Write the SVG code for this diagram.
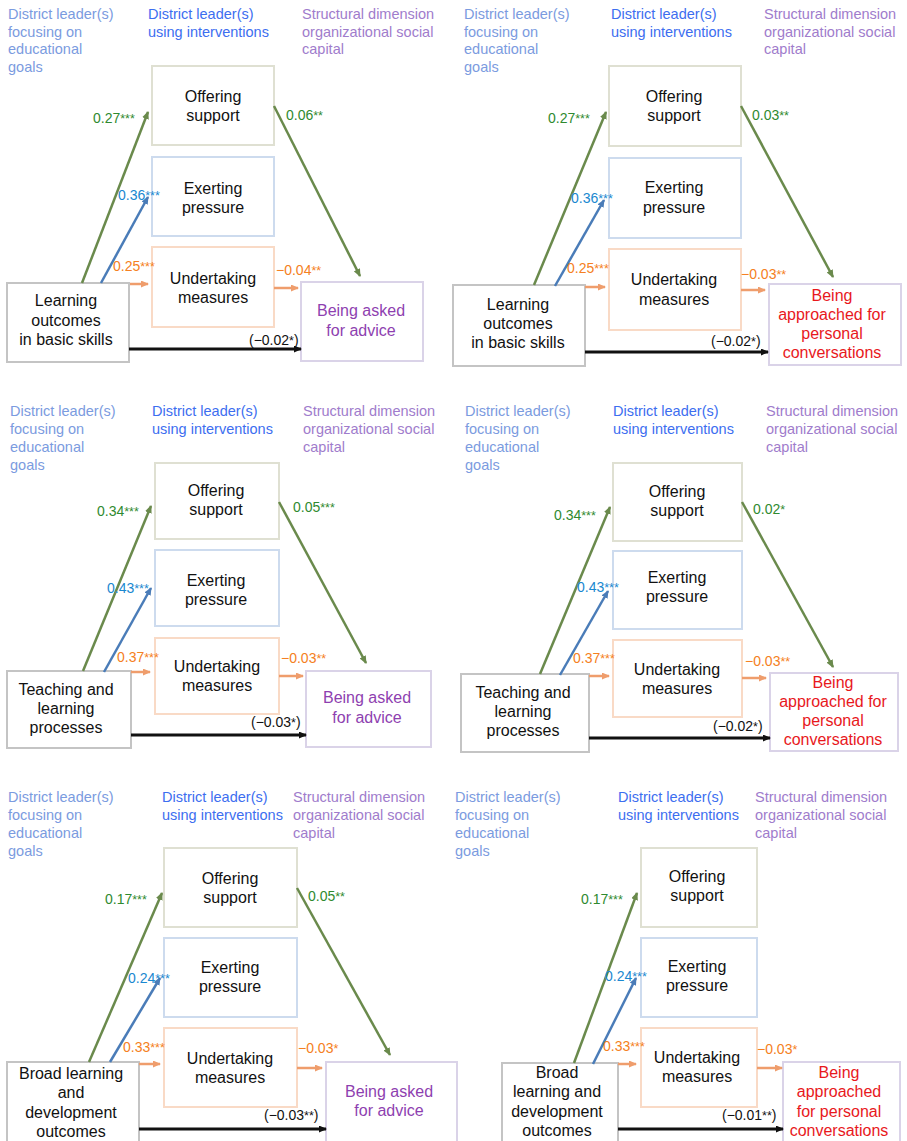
<svg xmlns="http://www.w3.org/2000/svg" width="907" height="1141" viewBox="0 0 907 1141">
<style>
text{font-family:"Liberation Sans",Arial,sans-serif}
.h{font-size:14.5px}
.h1{fill:#7b9be0}
.h2{fill:#3d6ef0}
.h3{fill:#a07ccc}
.bt{font-size:16px;fill:#111;text-anchor:middle}
.ba{font-size:16px;fill:#8e3fb0;text-anchor:middle}
.bp{font-size:16px;fill:#e8181c;text-anchor:middle}
.lb{font-size:14px}
.lg{fill:#2f8a2f}
.lbl{fill:#1a88d0}
.lo{fill:#f58022}
.lk{fill:#111}
.st{font-size:12.5px}
.box{fill:#fff;stroke-width:2}
.bo{stroke:#dfe0d2}
.be{stroke:#cddbee}
.bu{stroke:#f9dac6}
.bs{stroke:#c4c4c4}
.bq{stroke:#dad3e8}
.ag{stroke:#6a8a4c;stroke-width:2.5;fill:none;marker-end:url(#mg)}
.ab{stroke:#4a7cb8;stroke-width:2.5;fill:none;marker-end:url(#mb)}
.ao{stroke:#ef9d6c;stroke-width:2.5;fill:none;marker-end:url(#mo)}
.ak{stroke:#111;stroke-width:3;fill:none;marker-end:url(#mk)}
</style>
<defs>
<marker id="mg" markerUnits="userSpaceOnUse" markerWidth="8" markerHeight="7" refX="7" refY="3.5" orient="auto"><path d="M0,0 L8,3.5 L0,7 z" fill="#6a8a4c"/></marker>
<marker id="mb" markerUnits="userSpaceOnUse" markerWidth="8" markerHeight="7" refX="7" refY="3.5" orient="auto"><path d="M0,0 L8,3.5 L0,7 z" fill="#4a7cb8"/></marker>
<marker id="mo" markerUnits="userSpaceOnUse" markerWidth="8" markerHeight="7" refX="7" refY="3.5" orient="auto"><path d="M0,0 L8,3.5 L0,7 z" fill="#ef9d6c"/></marker>
<marker id="mk" markerUnits="userSpaceOnUse" markerWidth="8" markerHeight="7" refX="7" refY="3.5" orient="auto"><path d="M0,0 L8,3.5 L0,7 z" fill="#111"/></marker>
</defs>
<rect width="907" height="1141" fill="#fff"/>

<!-- ========== Panel 1 ========== -->
<g id="p1-headers" class="h">
<text class="h1" x="8" y="19">District leader(s)<tspan x="8" y="37">focusing on</tspan><tspan x="8" y="54">educational</tspan><tspan x="8" y="72">goals</tspan></text>
<text class="h2" x="148" y="19">District leader(s)<tspan x="148" y="37">using interventions</tspan></text>
<text class="h3" x="302" y="19">Structural dimension<tspan x="302" y="37">organizational social</tspan><tspan x="302" y="54">capital</tspan></text>
</g>
<g id="p1-offering"><rect class="box bo" x="152" y="66" width="122" height="79"/><text class="bt" x="213" y="102">Offering<tspan x="213" y="121">support</tspan></text></g>
<g id="p1-exerting"><rect class="box be" x="152" y="157" width="122" height="79"/><text class="bt" x="213" y="194">Exerting<tspan x="213" y="213">pressure</tspan></text></g>
<g id="p1-undertaking"><rect class="box bu" x="152" y="247" width="122" height="80"/><text class="bt" x="213" y="284">Undertaking<tspan x="213" y="303">measures</tspan></text></g>
<g id="p1-source"><rect class="box bs" x="7" y="283" width="122" height="79"/><text class="bt" x="66" y="306">Learning<tspan x="66" y="326">outcomes</tspan><tspan x="66" y="345">in basic skills</tspan></text></g>
<g id="p1-outcome"><rect class="box bq" x="301" y="282" width="122" height="79"/><text class="ba" x="361" y="316">Being asked<tspan x="361" y="336">for advice</tspan></text></g>
<g id="p1-connectors">
<path class="ag" d="M82 283 L148 112"/>
<path class="ab" d="M101 283 L148 197"/>
<path class="ao" d="M130 284 L148 284"/>
<path class="ag" d="M274 106 L360 276"/>
<path class="ao" d="M274 288 L298 288"/>
<path class="ak" d="M129 349 L301 349"/>
<text class="lb lg" x="93" y="123">0.27<tspan class="st">***</tspan></text>
<text class="lb lg" x="286" y="120">0.06<tspan class="st">**</tspan></text>
<text class="lb lbl" x="118" y="200">0.36<tspan class="st">***</tspan></text>
<text class="lb lo" x="113" y="271">0.25<tspan class="st">***</tspan></text>
<text class="lb lo" x="276" y="275">−0.04<tspan class="st">**</tspan></text>
<text class="lb lk" x="249" y="345">(−0.02<tspan class="st">*</tspan>)</text>
</g>

<!-- ========== Panel 2 ========== -->
<g id="p2-headers" class="h">
<text class="h1" x="464" y="19">District leader(s)<tspan x="464" y="37">focusing on</tspan><tspan x="464" y="54">educational</tspan><tspan x="464" y="72">goals</tspan></text>
<text class="h2" x="611" y="19">District leader(s)<tspan x="611" y="37">using interventions</tspan></text>
<text class="h3" x="764" y="19">Structural dimension<tspan x="764" y="37">organizational social</tspan><tspan x="764" y="54">capital</tspan></text>
</g>
<g id="p2-offering"><rect class="box bo" x="609" y="66" width="132" height="80"/><text class="bt" x="674" y="102">Offering<tspan x="674" y="121">support</tspan></text></g>
<g id="p2-exerting"><rect class="box be" x="609" y="158" width="132" height="80"/><text class="bt" x="674" y="193">Exerting<tspan x="674" y="213">pressure</tspan></text></g>
<g id="p2-undertaking"><rect class="box bu" x="609" y="249" width="132" height="81"/><text class="bt" x="674" y="285">Undertaking<tspan x="674" y="305">measures</tspan></text></g>
<g id="p2-source"><rect class="box bs" x="453" y="285" width="132" height="81"/><text class="bt" x="518" y="310">Learning<tspan x="518" y="329">outcomes</tspan><tspan x="518" y="348">in basic skills</tspan></text></g>
<g id="p2-outcome"><rect class="box bq" x="769" y="284" width="132" height="81"/><text class="bp" x="832" y="301">Being<tspan x="832" y="320">approached for</tspan><tspan x="832" y="339">personal</tspan><tspan x="832" y="358">conversations</tspan></text></g>
<g id="p2-connectors">
<path class="ag" d="M534 285 L606 112"/>
<path class="ab" d="M555 286 L604 200"/>
<path class="ao" d="M585 287 L605 287"/>
<path class="ag" d="M741 106 L833 277"/>
<path class="ao" d="M741 290 L765 290"/>
<path class="ak" d="M585 352 L768 352"/>
<text class="lb lg" x="548" y="123">0.27<tspan class="st">***</tspan></text>
<text class="lb lg" x="752" y="120">0.03<tspan class="st">**</tspan></text>
<text class="lb lbl" x="571" y="203">0.36<tspan class="st">***</tspan></text>
<text class="lb lo" x="567" y="273">0.25<tspan class="st">***</tspan></text>
<text class="lb lo" x="741" y="279">−0.03<tspan class="st">**</tspan></text>
<text class="lb lk" x="711" y="346">(−0.02<tspan class="st">*</tspan>)</text>
</g>

<!-- ========== Panel 3 ========== -->
<g id="p3-headers" class="h">
<text class="h1" x="10" y="416">District leader(s)<tspan x="10" y="434">focusing on</tspan><tspan x="10" y="452">educational</tspan><tspan x="10" y="470">goals</tspan></text>
<text class="h2" x="152" y="416">District leader(s)<tspan x="152" y="434">using interventions</tspan></text>
<text class="h3" x="303" y="416">Structural dimension<tspan x="303" y="434">organizational social</tspan><tspan x="303" y="452">capital</tspan></text>
</g>
<g id="p3-offering"><rect class="box bo" x="155" y="463" width="124" height="76"/><text class="bt" x="216" y="496">Offering<tspan x="216" y="515">support</tspan></text></g>
<g id="p3-exerting"><rect class="box be" x="155" y="550" width="124" height="76"/><text class="bt" x="216" y="586">Exerting<tspan x="216" y="605">pressure</tspan></text></g>
<g id="p3-undertaking"><rect class="box bu" x="155" y="638" width="124" height="76"/><text class="bt" x="217" y="672">Undertaking<tspan x="217" y="691">measures</tspan></text></g>
<g id="p3-source"><rect class="box bs" x="7" y="671" width="124" height="77"/><text class="bt" x="66" y="695">Teaching and<tspan x="66" y="714">learning</tspan><tspan x="66" y="733">processes</tspan></text></g>
<g id="p3-outcome"><rect class="box bq" x="306" y="671" width="125" height="76"/><text class="ba" x="367" y="703">Being asked<tspan x="367" y="723">for advice</tspan></text></g>
<g id="p3-connectors">
<path class="ag" d="M83 671 L151 506"/>
<path class="ab" d="M104 672 L151 588"/>
<path class="ao" d="M131 672 L150 672"/>
<path class="ag" d="M279 502 L366 663"/>
<path class="ao" d="M279 676 L303 676"/>
<path class="ak" d="M131 735 L306 735"/>
<text class="lb lg" x="97" y="516">0.34<tspan class="st">***</tspan></text>
<text class="lb lg" x="293" y="512">0.05<tspan class="st">***</tspan></text>
<text class="lb lbl" x="107" y="593">0.43<tspan class="st">***</tspan></text>
<text class="lb lo" x="117" y="662">0.37<tspan class="st">***</tspan></text>
<text class="lb lo" x="281" y="663">−0.03<tspan class="st">**</tspan></text>
<text class="lb lk" x="251" y="727">(−0.03<tspan class="st">*</tspan>)</text>
</g>

<!-- ========== Panel 4 ========== -->
<g id="p4-headers" class="h">
<text class="h1" x="465" y="416">District leader(s)<tspan x="465" y="434">focusing on</tspan><tspan x="465" y="452">educational</tspan><tspan x="465" y="470">goals</tspan></text>
<text class="h2" x="613" y="416">District leader(s)<tspan x="613" y="434">using interventions</tspan></text>
<text class="h3" x="766" y="416">Structural dimension<tspan x="766" y="434">organizational social</tspan><tspan x="766" y="452">capital</tspan></text>
</g>
<g id="p4-offering"><rect class="box bo" x="613" y="463" width="129" height="78"/><text class="bt" x="677" y="497">Offering<tspan x="677" y="516">support</tspan></text></g>
<g id="p4-exerting"><rect class="box be" x="613" y="551" width="129" height="78"/><text class="bt" x="677" y="583">Exerting<tspan x="677" y="602">pressure</tspan></text></g>
<g id="p4-undertaking"><rect class="box bu" x="613" y="640" width="129" height="77"/><text class="bt" x="677" y="675">Undertaking<tspan x="677" y="694">measures</tspan></text></g>
<g id="p4-source"><rect class="box bs" x="461" y="674" width="128" height="78"/><text class="bt" x="523" y="698">Teaching and<tspan x="523" y="717">learning</tspan><tspan x="523" y="736">processes</tspan></text></g>
<g id="p4-outcome"><rect class="box bq" x="770" y="673" width="128" height="78"/><text class="bp" x="833" y="688">Being<tspan x="833" y="707">approached for</tspan><tspan x="833" y="726">personal</tspan><tspan x="833" y="745">conversations</tspan></text></g>
<g id="p4-connectors">
<path class="ag" d="M540 674 L610 507"/>
<path class="ab" d="M560 675 L608 591"/>
<path class="ao" d="M589 676 L609 676"/>
<path class="ag" d="M742 502 L833 667"/>
<path class="ao" d="M742 678 L766 678"/>
<path class="ak" d="M589 738 L770 738"/>
<text class="lb lg" x="554" y="520">0.34<tspan class="st">***</tspan></text>
<text class="lb lg" x="753" y="514">0.02<tspan class="st">*</tspan></text>
<text class="lb lbl" x="577" y="592">0.43<tspan class="st">***</tspan></text>
<text class="lb lo" x="573" y="663">0.37<tspan class="st">***</tspan></text>
<text class="lb lo" x="745" y="666">−0.03<tspan class="st">**</tspan></text>
<text class="lb lk" x="713" y="731">(−0.02<tspan class="st">*</tspan>)</text>
</g>

<!-- ========== Panel 5 ========== -->
<g id="p5-headers" class="h">
<text class="h1" x="8" y="802">District leader(s)<tspan x="8" y="820">focusing on</tspan><tspan x="8" y="838">educational</tspan><tspan x="8" y="856">goals</tspan></text>
<text class="h2" x="162" y="802">District leader(s)<tspan x="162" y="820">using interventions</tspan></text>
<text class="h3" x="293" y="802">Structural dimension<tspan x="293" y="820">organizational social</tspan><tspan x="293" y="838">capital</tspan></text>
</g>
<g id="p5-offering"><rect class="box bo" x="164" y="848" width="133" height="79"/><text class="bt" x="230" y="884">Offering<tspan x="230" y="903">support</tspan></text></g>
<g id="p5-exerting"><rect class="box be" x="164" y="938" width="133" height="79"/><text class="bt" x="230" y="973">Exerting<tspan x="230" y="992">pressure</tspan></text></g>
<g id="p5-undertaking"><rect class="box bu" x="164" y="1028" width="133" height="79"/><text class="bt" x="230" y="1064">Undertaking<tspan x="230" y="1083">measures</tspan></text></g>
<g id="p5-source"><rect class="box bs" x="7" y="1062" width="132" height="82"/><text class="bt" x="71" y="1079">Broad learning<tspan x="71" y="1098">and</tspan><tspan x="71" y="1118">development</tspan><tspan x="71" y="1137">outcomes</tspan></text></g>
<g id="p5-outcome"><rect class="box bq" x="326" y="1062" width="131" height="82"/><text class="ba" x="389" y="1097">Being asked<tspan x="389" y="1116">for advice</tspan></text></g>
<g id="p5-connectors">
<path class="ag" d="M89 1062 L162 893"/>
<path class="ab" d="M110 1062 L160 978"/>
<path class="ao" d="M139 1064 L160 1064"/>
<path class="ag" d="M297 888 L390 1055"/>
<path class="ao" d="M297 1068 L322 1068"/>
<path class="ak" d="M139 1129 L326 1129"/>
<text class="lb lg" x="105" y="904">0.17<tspan class="st">***</tspan></text>
<text class="lb lg" x="308" y="901">0.05<tspan class="st">**</tspan></text>
<text class="lb lbl" x="128" y="983">0.24<tspan class="st">***</tspan></text>
<text class="lb lo" x="123" y="1052">0.33<tspan class="st">***</tspan></text>
<text class="lb lo" x="298" y="1053">−0.03<tspan class="st">*</tspan></text>
<text class="lb lk" x="264" y="1120">(−0.03<tspan class="st">**</tspan>)</text>
</g>

<!-- ========== Panel 6 ========== -->
<g id="p6-headers" class="h">
<text class="h1" x="455" y="802">District leader(s)<tspan x="455" y="820">focusing on</tspan><tspan x="455" y="838">educational</tspan><tspan x="455" y="856">goals</tspan></text>
<text class="h2" x="618" y="802">District leader(s)<tspan x="618" y="820">using interventions</tspan></text>
<text class="h3" x="755" y="802">Structural dimension<tspan x="755" y="820">organizational social</tspan><tspan x="755" y="838">capital</tspan></text>
</g>
<g id="p6-offering"><rect class="box bo" x="641" y="848" width="116" height="79"/><text class="bt" x="697" y="882">Offering<tspan x="697" y="901">support</tspan></text></g>
<g id="p6-exerting"><rect class="box be" x="641" y="938" width="116" height="79"/><text class="bt" x="697" y="972">Exerting<tspan x="697" y="991">pressure</tspan></text></g>
<g id="p6-undertaking"><rect class="box bu" x="641" y="1028" width="116" height="79"/><text class="bt" x="697" y="1063">Undertaking<tspan x="697" y="1082">measures</tspan></text></g>
<g id="p6-source"><rect class="box bs" x="502" y="1063" width="116" height="82"/><text class="bt" x="557" y="1078">Broad<tspan x="557" y="1097">learning and</tspan><tspan x="557" y="1117">development</tspan><tspan x="557" y="1136">outcomes</tspan></text></g>
<g id="p6-outcome"><rect class="box bq" x="783" y="1062" width="117" height="82"/><text class="bp" x="839" y="1078">Being<tspan x="839" y="1097">approached</tspan><tspan x="839" y="1117">for personal</tspan><tspan x="839" y="1136">conversations</tspan></text></g>
<g id="p6-connectors">
<path class="ag" d="M574 1063 L637 893"/>
<path class="ab" d="M593 1064 L636 978"/>
<path class="ao" d="M618 1064 L636 1064"/>
<path class="ao" d="M757 1068 L782 1068"/>
<path class="ak" d="M618 1129 L783 1129"/>
<text class="lb lg" x="581" y="904">0.17<tspan class="st">***</tspan></text>
<text class="lb lbl" x="605" y="981">0.24<tspan class="st">***</tspan></text>
<text class="lb lo" x="603" y="1051">0.33<tspan class="st">***</tspan></text>
<text class="lb lo" x="757" y="1054">−0.03<tspan class="st">*</tspan></text>
<text class="lb lk" x="722" y="1120">(−0.01<tspan class="st">**</tspan>)</text>
</g>
</svg>
